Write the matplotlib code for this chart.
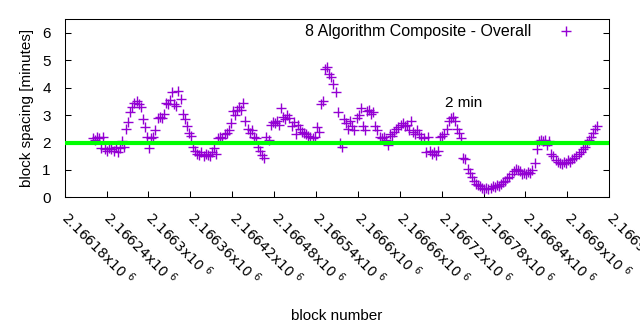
import numpy as np
import matplotlib
matplotlib.use("Agg")
import matplotlib.pyplot as plt

# block numbers (every 3rd block) and spacing in minutes
blocks = np.arange(2166220, 2166944, 3)
spacing = [
    2.15, 2.1, 2.2, 2.15, 1.8, 2.2, 1.75, 1.7, 1.8, 1.75,
    1.7, 1.85, 1.65, 1.8, 2.05, 1.85, 2.5, 2.75, 3.1, 3.3,
    3.45, 3.5, 3.4, 3.3, 2.85, 2.55, 2.2, 1.8, 2.15, 2.2,
    2.45, 2.9, 2.95, 2.9, 3.05, 3.45, 3.4, 3.55, 3.85, 3.4,
    3.35, 3.9, 3.6, 3.05, 2.85, 2.6, 2.35, 2.25, 1.85, 1.7,
    1.6, 1.55, 1.65, 1.5, 1.6, 1.55, 1.5, 1.65, 1.8, 1.6,
    2.15, 2.2, 2.15, 2.3, 2.35, 2.45, 2.7, 3.15, 3.0, 3.2,
    3.3, 3.2, 3.45, 2.8, 2.5, 2.35, 2.45, 2.2, 2.15, 1.85,
    1.7, 1.55, 1.45, 2.2, 2.1, 2.65, 2.75, 2.7, 2.8, 2.65,
    3.25, 2.95, 2.85, 3.0, 2.9, 2.6, 2.75, 2.3, 2.65, 2.5,
    2.4, 2.35, 2.3, 2.25, 2.2, 2.15, 2.2, 2.55, 2.4, 3.4,
    3.5, 4.7, 4.75, 4.5, 4.4, 4.15, 3.85, 3.1, 2.0, 1.85,
    2.85, 2.7, 2.5, 2.8, 2.6, 2.45, 2.9, 3.0, 3.25, 2.6,
    2.45, 3.15, 3.2, 3.05, 3.1, 2.6, 2.45, 2.2, 2.15, 2.2,
    2.1, 1.9, 2.3, 2.25, 2.4, 2.5, 2.55, 2.65, 2.7, 2.6,
    2.65, 2.45, 2.8, 2.4, 2.3, 2.45, 2.3, 2.2, 2.15, 1.65,
    2.2, 1.7, 1.6, 1.65, 1.55, 1.7, 2.2, 2.25, 2.3, 2.5,
    2.8, 2.9, 2.95, 2.8, 2.5, 2.35, 2.15, 1.45, 1.4, 1.05,
    0.9, 0.75, 0.6, 0.5, 0.45, 0.4, 0.35, 0.3, 0.35, 0.3,
    0.35, 0.4, 0.38, 0.45, 0.42, 0.5, 0.55, 0.6, 0.7, 0.75,
    0.85, 0.95, 1.05, 1.0, 0.95, 0.85, 0.9, 0.85, 0.92, 0.9,
    1.0, 1.25, 1.75, 2.05, 2.1, 2.05, 2.1, 1.9, 2.05, 1.6,
    1.5, 1.35, 1.3, 1.25, 1.2, 1.3, 1.25, 1.35, 1.3, 1.4,
    1.45, 1.5, 1.6, 1.65, 1.75, 1.85, 2.0, 2.1, 2.2, 2.35,
    2.5, 2.6,
]
target = 2  # 2 min target spacing

xticks = np.arange(2166180, 2166961, 60)
xtick_labels = [r"%gx10 $^{6}$" % (t / 1e6) for t in xticks]

plt.rcParams["font.family"] = ["Liberation Sans", "DejaVu Sans"]

fig = plt.figure(figsize=(6.4, 3.3), dpi=100)
ax = fig.add_axes([0.101, 0.402, 0.851, 0.5395])

ax.plot(blocks, spacing, "+", color="#9400d3", markersize=6.5, mew=1.0,
        label="8 Algorithm Composite - Overall")
ax.axhline(target, color="#00ff00", lw=3, zorder=3)
ax.text(2166725, 3.45, "2 min", fontsize=11, va="center", ha="left")

ax.set_xlim(2166180, 2166960)
ax.set_ylim(0, 6.5)
ax.set_yticks(range(0, 7))
ax.set_xticks(xticks)
ax.set_xticklabels(xtick_labels, rotation=-45, ha="left", va="center",
                   rotation_mode="anchor", fontsize=10, family="DejaVu Sans")
ax.tick_params(axis="x", direction="in", length=4, width=0.75, pad=12)
ax.tick_params(axis="y", direction="in", length=4, width=0.75, pad=10,
               right=True, labelsize=11)
for s in ax.spines.values():
    s.set_linewidth(0.75)

ax.set_xlabel("block number", fontsize=11, labelpad=15)
ax.set_ylabel("block spacing [minutes]", fontsize=11, labelpad=6)

ax.legend(loc="center right", bbox_to_anchor=(0.950, 0.929), frameon=False,
          markerfirst=False, fontsize=11.5, borderpad=0, borderaxespad=0,
          handlelength=2.0, handletextpad=1.2)

fig.savefig("out.png", dpi=100)
